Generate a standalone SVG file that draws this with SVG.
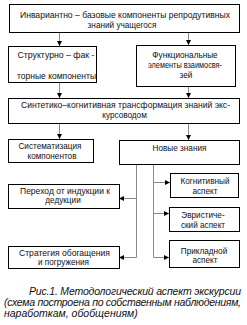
<svg xmlns="http://www.w3.org/2000/svg" width="247" height="325" viewBox="0 0 247 325">
<style>
rect.b{fill:#fff;stroke:#000;stroke-width:1}
text{font-family:"Liberation Sans",Arial,sans-serif;font-size:8.2px;fill:#111;text-anchor:middle}
text.cap{font-style:italic;font-size:10.5px;text-anchor:start}
.c path{fill:none;stroke:#8a8a8a;stroke-width:1;marker-end:url(#ah)}
.c path.n{marker-end:none}
</style>
<defs>
<marker id="ah" markerUnits="userSpaceOnUse" markerWidth="5" markerHeight="5" refX="5" refY="2.5" orient="auto">
<path d="M0,0 L5,2.5 L0,5 z" fill="#000"/>
</marker>
</defs>
<rect width="247" height="325" fill="#fff"/>
<g class="c" id="connectors">
<path d="M59.5,32 V46"/>
<path d="M188.5,32 V45"/>
<path d="M59.5,82 V98"/>
<path d="M188.5,86 V98"/>
<path d="M59.5,124 V139"/>
<path d="M188.5,124 V140"/>
<path class="n" d="M136.5,164 V257.5"/>
<path d="M136.5,198.5 H119"/>
<path d="M136.5,257.5 H119"/>
<path class="n" d="M153.5,164 V257.5"/>
<path d="M153.5,182.5 H170"/>
<path d="M153.5,213.5 H169"/>
<path d="M153.5,257.5 H169"/>
</g>
<g id="n1"><rect class="b" x="9.5" y="4.5" width="230" height="28"/>
<text x="125" y="18" textLength="210" lengthAdjust="spacingAndGlyphs">Инвариантно – базовые компоненты репродутивных</text>
<text x="122" y="28">знаний учащегося</text></g>
<g id="n2"><rect class="b" x="8.5" y="46.5" width="88" height="36"/>
<text x="56" y="57.5" textLength="77" lengthAdjust="spacingAndGlyphs">Структурно – фак -</text>
<text x="56.5" y="78.5" textLength="79" lengthAdjust="spacingAndGlyphs">торные компоненты</text></g>
<g id="n3"><rect class="b" x="136.5" y="45.5" width="99" height="41"/>
<text x="185" y="58">Функциональные</text>
<text x="185" y="68" textLength="74" lengthAdjust="spacingAndGlyphs">элементы взаимосвя-</text>
<text x="186" y="78">зей</text></g>
<g id="n4"><rect class="b" x="8.5" y="98.5" width="231" height="25"/>
<text x="125.5" y="108" textLength="209" lengthAdjust="spacingAndGlyphs">Синтетико–когнитивная трансформация знаний экс-</text>
<text x="124.5" y="118">курсоводом</text></g>
<g id="n5"><rect class="b" x="8.5" y="139.5" width="85" height="23"/>
<text x="50" y="149">Систематизация</text>
<text x="52" y="159">компонентов</text></g>
<g id="n6"><rect class="b" x="119.5" y="140.5" width="120" height="24"/>
<text x="179.5" y="151">Новые знания</text></g>
<g id="n7"><rect class="b" x="8.5" y="184.5" width="111" height="24"/>
<text x="65" y="194" textLength="90" lengthAdjust="spacingAndGlyphs">Переход от индукции к</text>
<text x="63" y="203">дедукции</text></g>
<g id="n8"><rect class="b" x="170.5" y="173.5" width="68" height="24"/>
<text x="205" y="184">Когнитивный</text>
<text x="205" y="194">аспект</text></g>
<g id="n9"><rect class="b" x="169.5" y="207.5" width="70" height="24"/>
<text x="203" y="218">Эвристиче-</text>
<text x="203" y="228">ский аспект</text></g>
<g id="n10"><rect class="b" x="169.5" y="240.5" width="70" height="27"/>
<text x="204" y="254">Прикладной</text>
<text x="205" y="263">аспект</text></g>
<g id="n11"><rect class="b" x="8.5" y="246.5" width="111" height="22"/>
<text x="64.5" y="256" textLength="91" lengthAdjust="spacingAndGlyphs">Стратегия обогащения</text>
<text x="63.5" y="265">и погружения</text></g>
<g id="caption">
<text class="cap" x="29" y="295" textLength="212" lengthAdjust="spacing">Рис.1. Методологический аспект экскурсии</text>
<text class="cap" x="4" y="306" textLength="237" lengthAdjust="spacing">(схема построена по собственным наблюдениям,</text>
<text class="cap" x="4" y="316.5">наработкам, обобщениям)</text>
</g>
</svg>
